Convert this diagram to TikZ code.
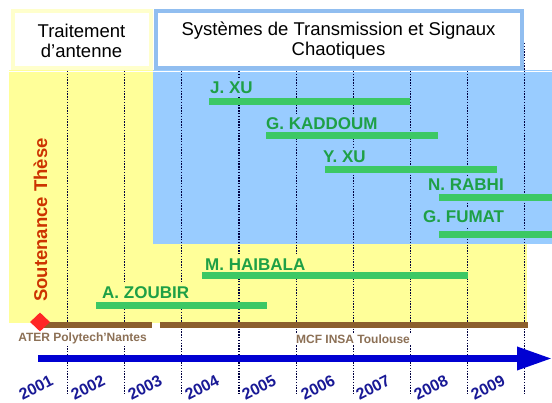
\documentclass[tikz,border=0pt]{standalone}
\usepackage{fontspec}
\setmainfont{Liberation Sans}
\usetikzlibrary{arrows.meta, shapes.geometric}
\definecolor{bodyyellow}{RGB}{255,255,153}
\definecolor{paleyellow}{RGB}{255,255,204}
\definecolor{bodyblue}{RGB}{153,204,255}
\definecolor{frameblue}{RGB}{145,190,240}
\definecolor{bargreen}{RGB}{60,200,100}
\definecolor{namegreen}{RGB}{30,160,70}
\definecolor{jobbrown}{RGB}{140,95,45}
\definecolor{jobtext}{RGB}{140,112,85}
\definecolor{axisblue}{RGB}{0,0,210}
\definecolor{yeartext}{RGB}{25,25,150}
\definecolor{thesered}{RGB}{204,51,0}
\tikzset{yearline/.style = {draw = black!75!blue, line width = 1.1pt, dash pattern = on 1.4pt off 1.4pt}}
\tikzset{header/.style = {fill = white, line width = 4pt}}
\tikzset{headtext/.style = {align = center, inner sep = 0pt, font = \fontsize{18.5}{20}\selectfont}}
\tikzset{person/.style = {anchor = west, inner xsep = 1pt, inner ysep = 3pt, fill = bodyblue, text = namegreen, font = \fontsize{17}{17}\selectfont\bfseries}}
\tikzset{thesis/.style = {draw = bargreen, line width = 7pt}}
\tikzset{job/.style = {draw = jobbrown, line width = 6pt}}
\tikzset{jobname/.style = {inner xsep = 1pt, inner ysep = 2pt, fill = white, text = jobtext, font = \fontsize{12}{12}\selectfont\bfseries}}
\tikzset{year/.style = {rotate = 27, inner sep = 0pt, text = yeartext, font = \fontsize{16}{16}\selectfont\bfseries}}

\begin{document}
\begin{tikzpicture}[x = 1pt, y = -1pt]
	\useasboundingbox (0, 0) rectangle (552, 403);

	% backgrounds
	\fill[bodyyellow] (9, 70) rectangle (527, 323);
	\fill[bodyblue] (153, 70) rectangle (552, 244);
	\draw[white, line width = 1.5pt] (9, 71.5) -- (552, 71.5);

	% year separators
	\draw[yearline] (67.7, 43) -- (67.7, 395);
	\draw[yearline] (124.8, 43) -- (124.8, 395);
	\draw[yearline] (181.9, 43) -- (181.9, 395);
	\draw[yearline] (239, 43) -- (239, 395);
	\draw[yearline] (296.1, 43) -- (296.1, 395);
	\draw[yearline] (353.2, 43) -- (353.2, 395);
	\draw[yearline] (410.3, 43) -- (410.3, 395);
	\draw[yearline] (467.4, 43) -- (467.4, 395);
	\draw[yearline] (524.5, 43) -- (524.5, 395);

	% headers
	\draw[header, draw = paleyellow] (12.5, 11.5) rectangle (150.5, 68.5);
	\draw[header, draw = frameblue] (155.5, 11.5) rectangle (521.5, 68.5);
	\node[headtext] (antenne) at (81.5, 41) {Traitement\\d'antenne};
	\node[headtext] (chaos) at (338.5, 41) {Systèmes de Transmission et Signaux\\Chaotiques};

	% theses
	\node[person] (jxu) at (209, 88) {J. XU};
	\node[person] (kaddoum) at (265, 123.5) {G. KADDOUM};
	\node[person] (yxu) at (322, 157) {Y. XU};
	\node[person] (rabhi) at (427, 185) {N. RABHI};
	\node[person] (fumat) at (422, 217) {G. FUMAT};
	\node[person, fill = bodyyellow] (haibala) at (204, 265) {M. HAIBALA};
	\node[person, fill = bodyyellow] (zoubir) at (101, 293) {A. ZOUBIR};

	\draw[thesis] (209, 102) -- (410, 102);
	\draw[thesis] (266, 136) -- (438, 136);
	\draw[thesis] (325, 169.5) -- (497, 169.5);
	\draw[thesis] (439, 198) -- (552, 198);
	\draw[thesis] (439, 235) -- (552, 235);
	\draw[thesis] (202, 276) -- (467.5, 276);
	\draw[thesis] (96, 305.5) -- (267, 305.5);

	% positions
	\draw[job] (40, 325) -- (152, 325);
	\draw[job] (160, 325) -- (527.5, 325);
	\node[jobname] (ater) at (82.5, 338.5) {ATER Polytech'Nantes};
	\node[jobname] (mcf) at (353, 339) {MCF INSA Toulouse};

	\node[rotate = 90, inner sep = 0pt, text = thesered, font = \fontsize{18.5}{18.5}\selectfont\bfseries] (soutenance) at (40.5, 220) {Soutenance Thèse};
	\node[diamond, fill = red!85!white, inner sep = 0pt, minimum width = 20pt, minimum height = 19pt] (these) at (40, 322) {};

	% time axis
	\coordinate (t0) at (38, 358.5);
	\coordinate (t1) at (552, 358.5);
	\draw[axisblue, line width = 6.5pt, -{Triangle[length = 35pt, width = 22pt]}] (t0) -- (t1);

	\node[year] (y2001) at (36, 388) {2001};
	\node[year] (y2002) at (88, 388) {2002};
	\node[year] (y2003) at (145, 388) {2003};
	\node[year] (y2004) at (202, 388) {2004};
	\node[year] (y2005) at (259, 388) {2005};
	\node[year] (y2006) at (318, 388) {2006};
	\node[year] (y2007) at (373, 388) {2007};
	\node[year] (y2008) at (431, 388) {2008};
	\node[year] (y2009) at (488, 388) {2009};
\end{tikzpicture}
\end{document}
